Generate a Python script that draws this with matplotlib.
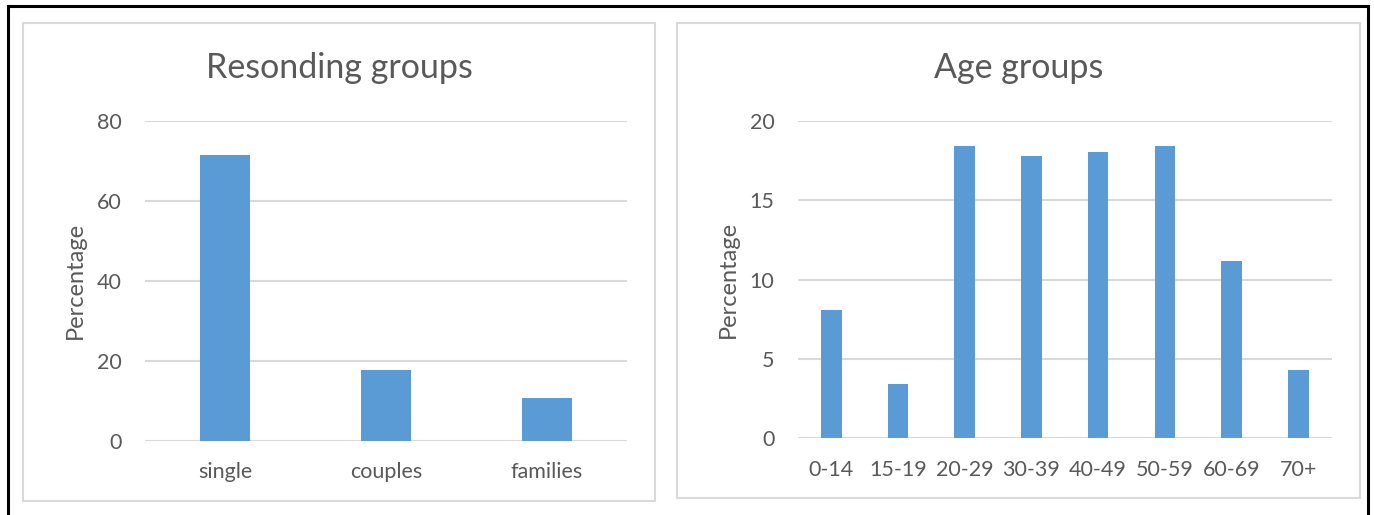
import matplotlib
matplotlib.use("Agg")
import matplotlib.pyplot as plt
from matplotlib.patches import Rectangle
from matplotlib.lines import Line2D

plt.rcParams['font.family'] = ['Lato', 'DejaVu Sans']

group_labels = ['single', 'couples', 'families']
group_pct = [71.4, 17.7, 10.7]

age_labels = ['0-14', '15-19', '20-29', '30-39', '40-49', '50-59', '60-69', '70+']
age_pct = [8.1, 3.4, 18.45, 17.8, 18.05, 18.45, 11.15, 4.3]

BAR = '#5B9BD5'
GRID = '#D9D9D9'
TEXT = '#595959'
W, H = 1374, 515

fig = plt.figure(figsize=(W / 100, H / 100), dpi=100)


def px_box(x0, y0, x1, y1):
    # pixel box (top-left origin) -> figure fraction rect
    return [x0 / W, 1 - y1 / H, (x1 - x0) / W, (y1 - y0) / H]


def panel(x0, y0, x1, y1):
    l, b, w, h = px_box(x0, y0, x1, y1)
    fig.patches.append(Rectangle((l, b), w, h, transform=fig.transFigure,
                                 fill=False, edgecolor=GRID, linewidth=1.5))


def bar_chart(rect, labels, values, ymax, step, title, title_x, ylab_x):
    ax = fig.add_axes(rect)
    ax.bar(range(len(labels)), values, width=0.31, color=BAR, zorder=3)
    ax.set_xlim(-0.5, len(labels) - 0.5)
    ax.set_ylim(0, ymax)
    ax.set_yticks(range(0, ymax + 1, step))
    ax.set_xticks(range(len(labels)))
    ax.set_xticklabels(labels)
    ax.grid(axis='y', color=GRID, linewidth=1.5, zorder=0)
    ax.set_axisbelow(True)
    for s in ax.spines.values():
        s.set_visible(False)
    ax.tick_params(length=0, labelsize=15.5, labelcolor=TEXT)
    ax.tick_params(axis='y', pad=17)
    ax.tick_params(axis='x', pad=15.5)
    # axis title and chart title placed in figure pixels
    l, b, w, h = rect
    fig.text(ylab_x / W, b + h / 2, 'Percentage', fontsize=17, color=TEXT,
             rotation=90, ha='center', va='center')
    fig.text(title_x / W, 1 - 68 / H, title, fontsize=24.5, color=TEXT,
             ha='center', va='center')
    return ax


panel(23, 23, 655, 501)
panel(677, 23, 1360, 498)

bar_chart(px_box(145, 121, 627, 440.7), group_labels, group_pct, 80, 20,
          'Resonding groups', 339, 75)
bar_chart(px_box(798, 121, 1331.6, 438.3), age_labels, age_pct, 20, 5,
          'Age groups', 1019, 728)

# black frame around the figure
for xs, ys in [((8, 8), (6, H)), ((8, 1368), (6, 6)), ((1368, 1368), (6, H))]:
    fig.lines.append(Line2D([x / W for x in xs], [1 - y / H for y in ys],
                            transform=fig.transFigure, color='black',
                            linewidth=2.2))

fig.savefig('out.png', dpi=100)
